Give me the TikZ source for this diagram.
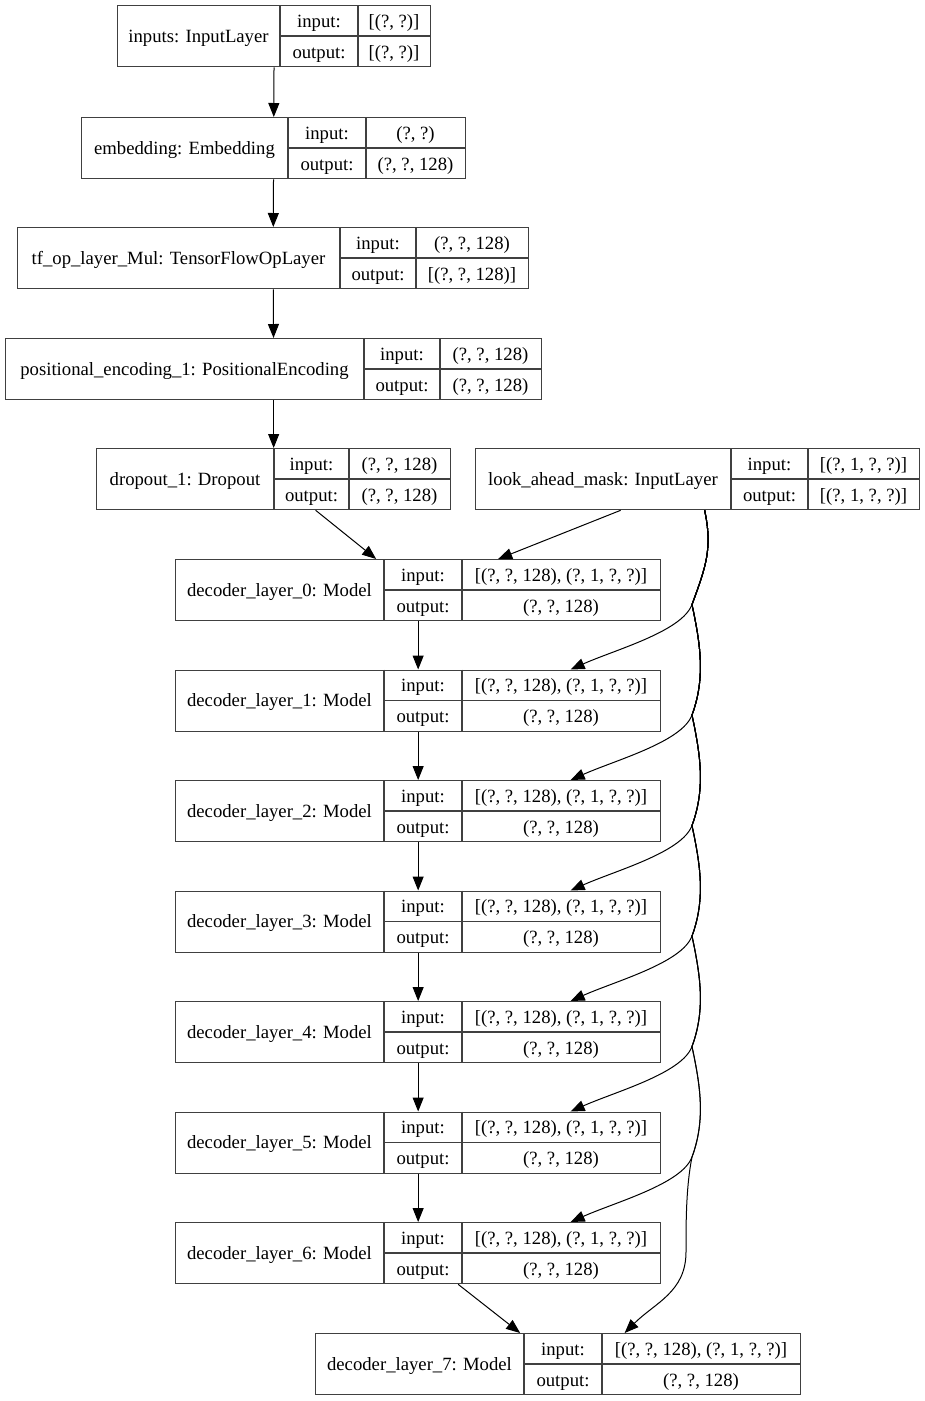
\documentclass[tikz,border=0pt]{standalone}
\usepackage{fontspec}
\setmainfont{Liberation Serif}
\usepackage{tikz}
\usetikzlibrary{arrows.meta}

\tikzset{
    boxline/.style={draw=black!75, line width=1.3pt},
    celltext/.style={anchor=base, inner sep=0pt, font=\fontsize{18.7}{22}\selectfont},
    edge/.style={-{Triangle[length=14pt,width=11pt]}, line width=1pt},
}

\newcommand{\kerasbox}[9]{%
    \pgfmathsetmacro\boxw{#5-#2}
    \node[boxline, minimum width=\boxw pt, minimum height=61pt, inner sep=0pt, anchor=north west] (#1) at (#2,#6) {};
    \draw[boxline] (#3,#6) -- (#3,#6+61) (#4,#6) -- (#4,#6+61) (#3,#6+31) -- (#5,#6+31);
    \node[celltext] (#1-name) at ({(#2+#3)/2},#6+37) {#7};
    \node[celltext] (#1-inkey) at ({(#3+#4)/2},#6+22) {input:};
    \node[celltext] (#1-outkey) at ({(#3+#4)/2},#6+53) {output:};
    \node[celltext] (#1-inval) at ({(#4+#5)/2},#6+22) {#8};
    \node[celltext] (#1-outval) at ({(#4+#5)/2},#6+53) {#9};
}

\begin{document}
\begin{tikzpicture}[x=1pt, y=-1pt]
    \useasboundingbox (0,0) rectangle (925,1401);
    \kerasbox{inp}{117}{280}{358}{430}{5}{inputs: InputLayer}{[(?, ?)]}{[(?, ?)]}
    \kerasbox{emb}{81}{288}{366}{465}{117}{embedding: Embedding}{(?, ?)}{(?, ?, 128)}
    \kerasbox{mul}{17}{340}{416}{528}{227}{tf\_op\_layer\_Mul: TensorFlowOpLayer}{(?, ?, 128)}{[(?, ?, 128)]}
    \kerasbox{pos}{5}{364}{440}{541}{338}{positional\_encoding\_1: PositionalEncoding}{(?, ?, 128)}{(?, ?, 128)}
    \kerasbox{drop}{96}{274}{349}{450}{448}{dropout\_1: Dropout}{(?, ?, 128)}{(?, ?, 128)}
    \kerasbox{lam}{475}{731}{808}{919}{448}{look\_ahead\_mask: InputLayer}{[(?, 1, ?, ?)]}{[(?, 1, ?, ?)]}
    \foreach \k in {0,...,6} {
        \pgfmathsetmacro\ytop{559+110.5*\k}
        \kerasbox{dec\k}{175}{384}{462}{660}{\ytop}{decoder\_layer\_\k: Model}{[(?, ?, 128), (?, 1, ?, ?)]}{(?, ?, 128)}
    }
    \kerasbox{dec7}{315}{524}{602}{800}{1333}{decoder\_layer\_7: Model}{[(?, ?, 128), (?, 1, ?, ?)]}{(?, ?, 128)}

    \draw[edge] (inp) -- (emb);
    \draw[edge] (emb) -- (mul);
    \draw[edge] (mul) -- (pos);
    \draw[edge] (pos) -- (drop);
    \draw[edge] ([xshift=42pt]drop.south) -- ([xshift=-42pt]dec0.north);
    \draw[edge] ([xshift=-77pt]lam.south) -- ([xshift=80pt]dec0.north);
    \foreach \k/\n in {0/1,1/2,2/3,3/4,4/5,5/6}
        \draw[edge] (dec\k) -- (dec\n);
    \draw[edge] ([xshift=40pt]dec6.south) -- ([xshift=-38pt]dec7.north);

    \coordinate (t0) at ([xshift=7pt]lam.south);
    \foreach \k in {1,...,6}
        \coordinate (t\k) at (692,{559+110.5*\k-65});
    \coordinate (t7) at (686,1252);
    \foreach \k in {1,...,6}
        \draw[edge] (t0) \foreach \j in {1,...,\k} { .. controls +(8,38) and +(14,-38) .. (t\j) }
            .. controls +(-10,27) and +(45,-20) .. ([xshift=152.5pt]dec\k.north);
    \draw[edge] (t0) \foreach \j in {1,...,6} { .. controls +(8,38) and +(14,-38) .. (t\j) }
        .. controls +(-6,30) and +(0,-30) .. (t7) .. controls +(0,40) and +(30,-30) .. ([xshift=66.5pt]dec7.north);
\end{tikzpicture}
\end{document}
